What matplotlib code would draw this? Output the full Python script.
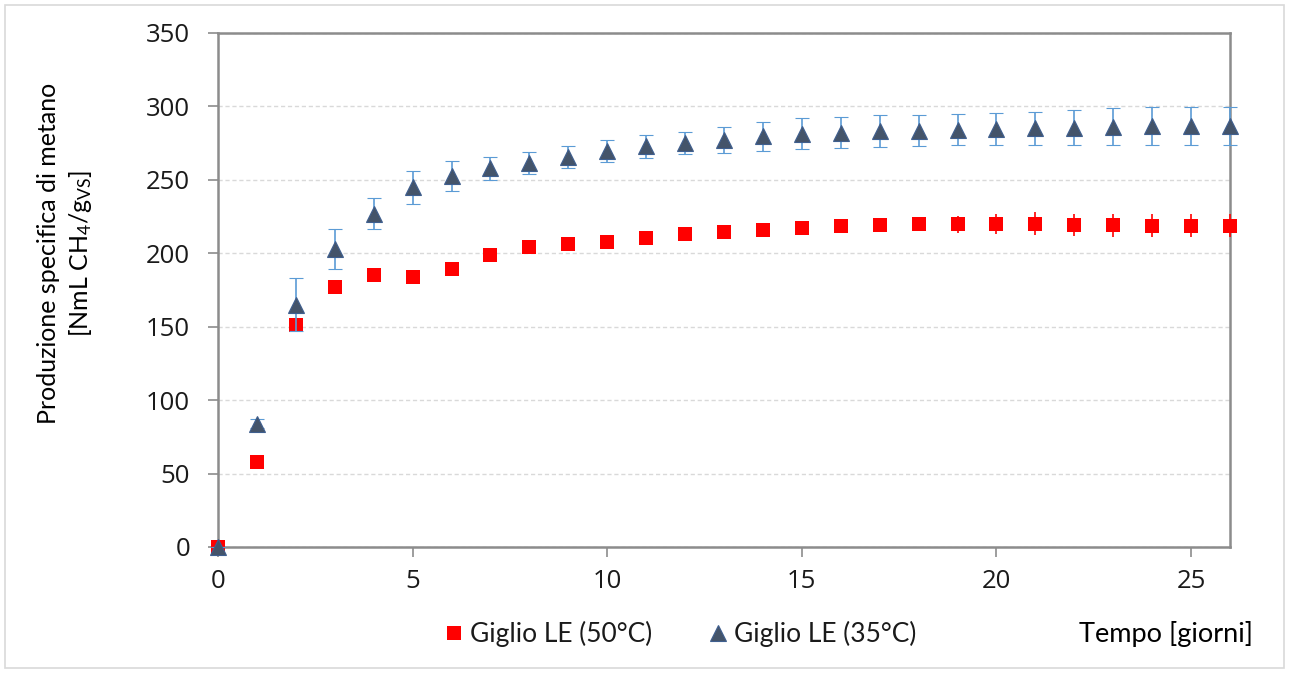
import matplotlib
matplotlib.use("Agg")
import matplotlib.pyplot as plt
from matplotlib.patches import Rectangle

# Time axis (days)
days = list(range(0, 27))

# Specific methane production, Giglio LE at 50 °C
y_50 = [0, 58, 151, 177, 185.5, 184, 189.5, 198.5, 204, 206, 208, 210.5, 213,
        214.3, 215.6, 217.4, 218.8, 219.3, 220, 219.7, 220, 220.2, 219.4, 219,
        218.8, 218.8, 218.8]
err_50 = [0, 1, 2, 2, 2, 2, 2, 2, 2, 2, 2, 2, 2,
          2, 2, 2, 3, 3, 4, 6, 7, 7.8, 7.6, 7.7, 7.7, 7.7, 7.7]

# Specific methane production, Giglio LE at 35 °C
y_35 = [0, 84, 165, 202.7, 226.9, 244.8, 252.6, 257.8, 261.6, 265.6, 269.5,
        272.8, 275.3, 277.3, 279.6, 281.4, 282.2, 283.2, 283.6, 284.2, 284.6,
        285, 285.5, 286.2, 286.7, 286.7, 286.7]
err_35 = [0, 3, 18, 13.7, 10.6, 11.5, 10.2, 7.7, 7.6, 7.6, 7.6,
          7.7, 7.5, 8.7, 10, 10.5, 10.7, 10.8, 10.8, 10.7, 11.1,
          11.5, 12, 12.8, 13.2, 13.2, 13.2]

y_ticks = [0, 50, 100, 150, 200, 250, 300, 350]
x_ticks = [0, 5, 10, 15, 20, 25]

label_50 = "Giglio LE (50°C)"
label_35 = "Giglio LE (35°C)"

plt.rcParams["mathtext.fontset"] = "custom"
plt.rcParams["mathtext.rm"] = "Lato"
plt.rcParams["mathtext.it"] = "Lato:italic"
plt.rcParams["mathtext.bf"] = "Lato:bold"

W, H = 1291, 673
fig = plt.figure(figsize=(W / 100, H / 100), dpi=100)
fig.patch.set_facecolor("white")

# chart-area border
fig.add_artist(Rectangle((5 / W, 1 - 668 / H), 1279 / W, 663 / H,
                         transform=fig.transFigure, fill=False,
                         edgecolor="#d9d9d9", linewidth=1.2))

left, right, top, bottom = 218, 1230, 33, 547
ax = fig.add_axes([left / W, 1 - bottom / H, (right - left) / W, (bottom - top) / H])

ax.set_xlim(0, 26)
ax.set_ylim(0, 350)
ax.set_yticks(y_ticks)
ax.set_xticks(x_ticks)

ax.grid(axis="y", color="#d9d9d9", linestyle=(0, (3, 2)), linewidth=1.0)
ax.set_axisbelow(True)

for s in ax.spines.values():
    s.set_color("#8c8c8c")
    s.set_linewidth(1.8)

tick_font = {"family": "Open Sans", "size": 18.5}
ax.tick_params(axis="both", which="major", direction="out", length=7,
               width=1.2, color="#8c8c8c", labelcolor="#1a1a1a")
ax.set_yticklabels([str(v) for v in y_ticks], fontdict=tick_font)
ax.set_xticklabels([str(v) for v in x_ticks], fontdict=tick_font)
ax.tick_params(axis="y", pad=13)
ax.tick_params(axis="x", pad=9)

# 50 °C series: red squares
ax.errorbar(days, y_50, yerr=err_50, fmt="s", color="#ff0000",
            ecolor="#ff0000", elinewidth=1.2, capsize=5, capthick=1.2,
            markersize=10.5, markeredgewidth=0, label=label_50,
            zorder=3, clip_on=False)

# 35 °C series: dark slate triangles with light blue error bars
ax.errorbar(days, y_35, yerr=err_35, fmt="^", color="#44546a",
            markeredgecolor="#3f5f8f", markeredgewidth=0.8,
            ecolor="#5b9bd5", elinewidth=1.2, capsize=5, capthick=1.2,
            markersize=11.5, label=label_35, zorder=4, clip_on=False)

ylab_font = ["Lato", "DejaVu Sans"]
fig.text(49 / W, 1 - 253 / H, "Produzione specifica di metano",
         rotation=90, ha="center", va="center", fontsize=18,
         family=ylab_font, color="#000000")
fig.text(80 / W, 1 - 253 / H, r"[NmL CH$_4$/g$_{\mathrm{VS}}$]",
         rotation=90, ha="center", va="center", fontsize=18,
         family=ylab_font, color="#000000")

fig.text(1253 / W, 1 - 634 / H, "Tempo [giorni]", ha="right", va="center",
         fontsize=19.5, family=ylab_font, color="#000000")

handles, labels = ax.get_legend_handles_labels()
handles = [h[0] for h in handles]
leg = fig.legend(handles, labels, loc="center", ncol=2,
                 bbox_to_anchor=(681 / W, 1 - 634 / H),
                 frameon=False, prop={"family": ylab_font, "size": 19},
                 handlelength=0.6, handletextpad=0.3, columnspacing=2.2,
                 markerscale=0.95)
for t in leg.get_texts():
    t.set_color("#1a1a1a")

fig.savefig("out.png", dpi=100, facecolor="white")
